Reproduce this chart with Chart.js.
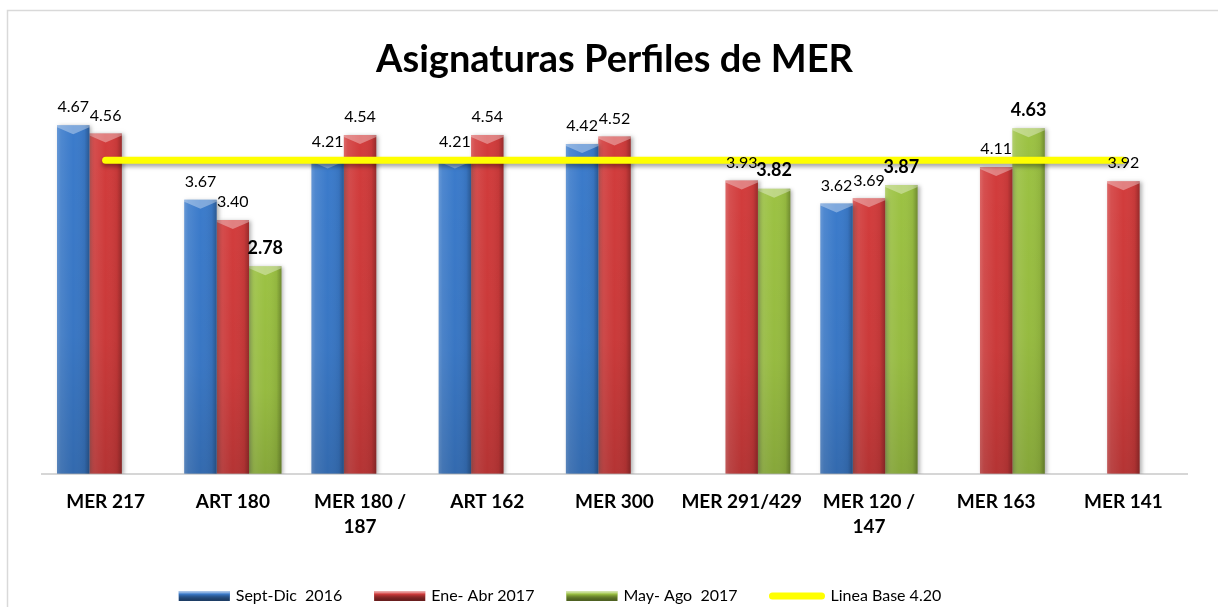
<!DOCTYPE html>
<html>
<head>
<meta charset="utf-8">
<script src="https://cdn.jsdelivr.net/npm/chart.js@4"></script>
<style>
    body { margin: 0; background: #ffffff; }
</style>
</head>
<body>
<canvas id="chart" width="1218" height="607"></canvas>
<script>
// categories and series
const CATEGORIES = [
    "MER 217",
    "ART 180",
    ["MER 180 /", "187"],
    "ART 162",
    "MER 300",
    "MER 291/429",
    ["MER 120 /", "147"],
    "MER 163",
    "MER 141",
];

const SEPT_DIC_2016 = [4.67, 3.67, 4.21, 4.21, 4.42, null, 3.62, null, null];
const ENE_ABR_2017 = [4.56, 3.40, 4.54, 4.54, 4.52, 3.93, 3.69, 4.11, 3.92];
const MAY_AGO_2017 = [null, 2.78, null, null, null, 3.82, 3.87, 4.63, null];
const LINEA_BASE = [4.20, 4.20, 4.20, 4.20, 4.20, 4.20, 4.20, 4.20, 4.20];

const SERIES_LABELS = ["Sept-Dic  2016", "Ene- Abr 2017", "May- Ago  2017", "Linea Base 4.20"];
const COLORS = ["#3b7bcb", "#d23c3c", "#9cc243", "#ffff00"];

const FONT = "Lato, 'Open Sans', sans-serif";

// bevel look of the excel bars, drawn over the library's bar elements
const bevelPlugin = {
    id: "bevel",
    beforeDatasetDraw(chart, args) {
        if (args.meta.type !== "bar") return;
        let ctx = chart.ctx;
        ctx.save();
        ctx.shadowColor = "rgba(0,0,0,0.30)";
        ctx.shadowBlur = 4;
        ctx.shadowOffsetX = 2;
        ctx.shadowOffsetY = 1;
    },
    afterDatasetDraw(chart, args) {
        let ctx = chart.ctx;
        if (args.meta.type !== "bar") {
            return;
        }
        ctx.restore();
        args.meta.data.forEach(function (bar, i) {
            if (chart.data.datasets[args.index].data[i] == null) return;
            let left = bar.x - bar.width / 2;
            let right = bar.x + bar.width / 2;
            let top = bar.y;
            let bottom = bar.base;

            let g = ctx.createLinearGradient(left, 0, right, 0);
            g.addColorStop(0, "rgba(255,255,255,0.22)");
            g.addColorStop(0.12, "rgba(255,255,255,0.10)");
            g.addColorStop(0.5, "rgba(255,255,255,0)");
            g.addColorStop(0.85, "rgba(0,0,0,0.06)");
            g.addColorStop(1, "rgba(0,0,0,0.28)");
            ctx.fillStyle = g;
            ctx.fillRect(left, top, right - left, bottom - top);

            let v = ctx.createLinearGradient(0, top, 0, bottom);
            v.addColorStop(0, "rgba(0,0,0,0)");
            v.addColorStop(0.6, "rgba(0,0,0,0.04)");
            v.addColorStop(1, "rgba(0,0,0,0.14)");
            ctx.fillStyle = v;
            ctx.fillRect(left, top, right - left, bottom - top);

            ctx.beginPath();
            ctx.moveTo(left, top);
            ctx.lineTo(right, top);
            ctx.lineTo(right, top + 2);
            ctx.lineTo(bar.x, top + 9);
            ctx.lineTo(left, top + 2);
            ctx.closePath();
            ctx.fillStyle = "rgba(255,255,255,0.35)";
            ctx.fill();
        });
    },
};

const lineShadowPlugin = {
    id: "lineShadow",
    beforeDatasetDraw(chart, args) {
        if (args.meta.type !== "line") return;
        chart.ctx.save();
        chart.ctx.shadowColor = "rgba(0,0,0,0.35)";
        chart.ctx.shadowBlur = 4;
        chart.ctx.shadowOffsetY = 3;
    },
    afterDatasetDraw(chart, args) {
        if (args.meta.type !== "line") return;
        chart.ctx.restore();
    },
};

const valueLabelsPlugin = {
    id: "valueLabels",
    afterDatasetsDraw(chart) {
        let ctx = chart.ctx;
        ctx.save();
        ctx.textAlign = "center";
        ctx.textBaseline = "middle";
        ctx.fillStyle = "#000000";
        chart.data.datasets.forEach(function (ds, di) {
            if (ds.type === "line") return;
            let meta = chart.getDatasetMeta(di);
            ctx.font = di === 2 ? "bold 18px " + FONT : "16px " + FONT;
            meta.data.forEach(function (bar, i) {
                let value = ds.data[i];
                if (value == null) return;
                ctx.fillText(value.toFixed(2), bar.x, bar.y - 18);
            });
        });
        ctx.restore();
    },
};

const frameAndLegendPlugin = {
    id: "frameAndLegend",
    beforeDraw(chart) {
        let ctx = chart.ctx;
        ctx.save();
        ctx.strokeStyle = "#d9d9d9";
        ctx.lineWidth = 1.5;
        ctx.strokeRect(7.5, 10.5, 1300, 700);
        ctx.restore();
    },
    afterDraw(chart) {
        let ctx = chart.ctx;
        ctx.save();
        ctx.font = "16px " + FONT;
        ctx.textBaseline = "middle";
        ctx.textAlign = "left";
        let gap = 6, spacing = 32, cy = 596;
        let swatches = [51, 51, 51, 55];
        let widths = SERIES_LABELS.map((t, i) => swatches[i] + gap + ctx.measureText(t).width);
        let total = widths.reduce((a, b) => a + b, 0) + spacing * (widths.length - 1);
        let x = 560 - total / 2;
        SERIES_LABELS.forEach(function (text, i) {
            let swatch = swatches[i];
            if (i < 3) {
                let g = ctx.createLinearGradient(0, cy - 5, 0, cy + 5);
                g.addColorStop(0, "rgba(255,255,255,0.6)");
                g.addColorStop(0.3, COLORS[i]);
                g.addColorStop(1, "rgba(0,0,0,0.5)");
                ctx.fillStyle = COLORS[i];
                ctx.fillRect(x, cy - 5, swatch, 10);
                ctx.fillStyle = g;
                ctx.fillRect(x, cy - 5, swatch, 10);
            } else {
                ctx.strokeStyle = COLORS[i];
                ctx.lineWidth = 7;
                ctx.lineCap = "round";
                ctx.beginPath();
                ctx.moveTo(x + 3, cy);
                ctx.lineTo(x + swatch - 3, cy);
                ctx.stroke();
            }
            ctx.fillStyle = "#000000";
            ctx.fillText(text, x + swatch + gap, cy);
            x += widths[i] + spacing;
        });
        ctx.restore();
    },
};

function barDataset(index, data) {
    return {
        type: "bar",
        label: SERIES_LABELS[index],
        data: data,
        backgroundColor: COLORS[index],
        borderWidth: 0,
        order: 1,
    };
}

new Chart(document.getElementById("chart"), {
    data: {
        labels: CATEGORIES,
        datasets: [
            barDataset(0, SEPT_DIC_2016),
            barDataset(1, ENE_ABR_2017),
            barDataset(2, MAY_AGO_2017),
            {
                type: "line",
                label: SERIES_LABELS[3],
                data: LINEA_BASE,
                borderColor: COLORS[3],
                backgroundColor: COLORS[3],
                borderWidth: 7,
                borderCapStyle: "round",
                pointRadius: 0,
                fill: false,
                order: 0,
            },
        ],
    },
    options: {
        responsive: false,
        animation: false,
        datasets: {
            bar: {
                categoryPercentage: 0.764,
                barPercentage: 1,
            },
        },
        layout: {
            padding: { left: 42, right: 31, top: 0, bottom: 52 },
        },
        scales: {
            x: {
                grid: { display: false, drawTicks: false },
                border: { display: true, color: "#d6d6d6", width: 2 },
                ticks: {
                    color: "#000000",
                    autoSkip: false,
                    maxRotation: 0,
                    padding: 15,
                    font: { family: FONT, weight: "bold", size: 19, lineHeight: 1.35 },
                },
            },
            y: {
                display: false,
                min: 0,
                max: 5,
            },
        },
        plugins: {
            title: {
                display: true,
                text: "Asignaturas Perfiles de MER",
                color: "#000000",
                font: { family: FONT, weight: "bold", size: 38, lineHeight: 1.2 },
                padding: { top: 37, bottom: 18 },
            },
            legend: { display: false },
            tooltip: { enabled: false },
        },
    },
    plugins: [bevelPlugin, lineShadowPlugin, valueLabelsPlugin, frameAndLegendPlugin],
});
</script>
</body>
</html>
